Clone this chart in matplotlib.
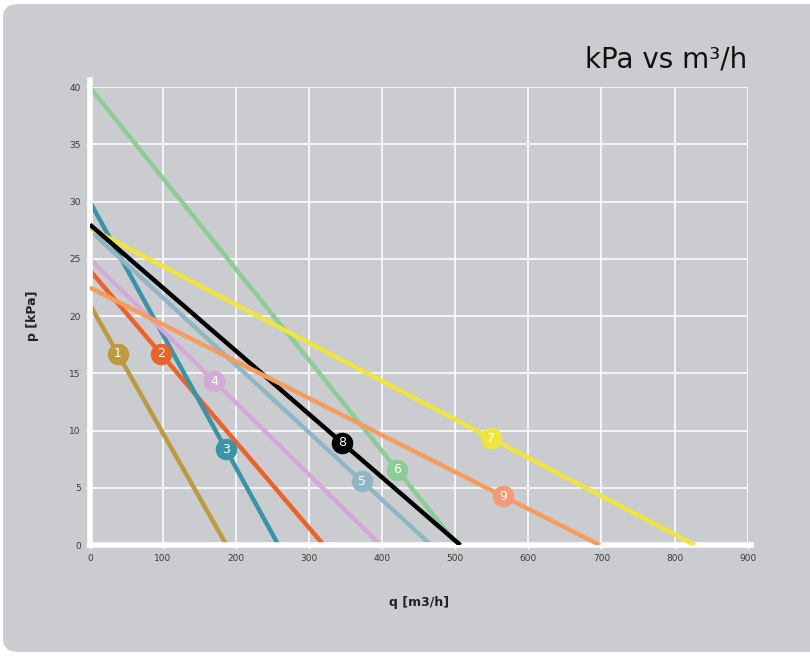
import numpy as np
import matplotlib.pyplot as plt
from matplotlib.patches import FancyBboxPatch

# pump curves: pressure at q=0 and flow at p=0
curve_ids = ['1', '2', '3', '4', '5', '6', '7', '8', '9']
p_start = [21, 24, 30, 25, 27.5, 40, 27.7, 28, 22.5]
q_end = [187, 320, 258, 398, 467, 503, 828, 507, 698]
label_q = [38, 97, 186, 170, 372, 420, 549, 345, 565]
line_colors = ['#bb9a41', '#ea632b', '#3b94a5', '#d5a9d5', '#91b6c3',
               '#8dcb97', '#eee53f', '#000000', '#f59c5e']
label_colors = ['#bb9a41', '#ea632b', '#3b94a5', '#d5a9d5', '#91b6c3',
                '#8dcb97', '#eee53f', '#000000', '#f39a7c']

x_ticks = np.arange(0, 1000, 100)
y_ticks = np.arange(0, 45, 5)

bg = '#cbccd0'
fig = plt.figure(figsize=(8.1, 6.56), dpi=100)
fig.patch.set_facecolor('white')
panel = FancyBboxPatch((3 / 810, 4 / 656), 820 / 810, 648 / 656,
                       boxstyle='round,pad=0,rounding_size=0.02',
                       transform=fig.transFigure, facecolor=bg,
                       edgecolor='none', zorder=-5)
fig.patches.append(panel)

ax = fig.add_axes([0.111, 0.169, 0.812, 0.698])
ax.set_zorder(2)
ax.set_facecolor(bg)
ax.set_xlim(0, 900)
ax.set_ylim(0, 40)
ax.set_xticks(x_ticks)
ax.set_yticks(y_ticks)
ax.grid(True, color='white', linewidth=1.1)
ax.set_axisbelow(True)
for s in ['top', 'right']:
    ax.spines[s].set_visible(False)
for s in ['left', 'bottom']:
    ax.spines[s].set_color('white')
    ax.spines[s].set_linewidth(4)
ax.spines['left'].set_bounds(0, 40.6)
ax.spines['bottom'].set_bounds(0, 905)
ax.spines['left'].set_clip_on(False)
ax.spines['bottom'].set_clip_on(False)
ax.tick_params(colors='white', labelcolor='#3a3a3a', labelsize=6.5, length=3, width=1)

for i in range(len(curve_ids)):
    qs = [0, q_end[i]]
    ps = [p_start[i], 0]
    ax.plot(qs, ps, color=line_colors[i], linewidth=3.2, solid_capstyle='butt',
            zorder=2 + i * 0.1)
    lp = np.interp(label_q[i], qs, ps)
    ax.scatter([label_q[i]], [lp], s=210, color=label_colors[i], zorder=5)
    ax.text(label_q[i], lp, curve_ids[i], color='white', fontsize=9,
            ha='center', va='center', zorder=6)

ax.set_xlabel('q [m3/h]', fontsize=9, fontweight='bold', color='#222222', labelpad=24)
ax.set_ylabel('p [kPa]', fontsize=9, fontweight='bold', color='#222222', labelpad=22)
fig.text(0.923, 0.897, 'kPa vs m³/h', ha='right', va='baseline',
         fontsize=20, color='#111111', family=['Liberation Sans Narrow', 'DejaVu Sans'])

fig.savefig('out.png', dpi=100, facecolor=fig.get_facecolor())
